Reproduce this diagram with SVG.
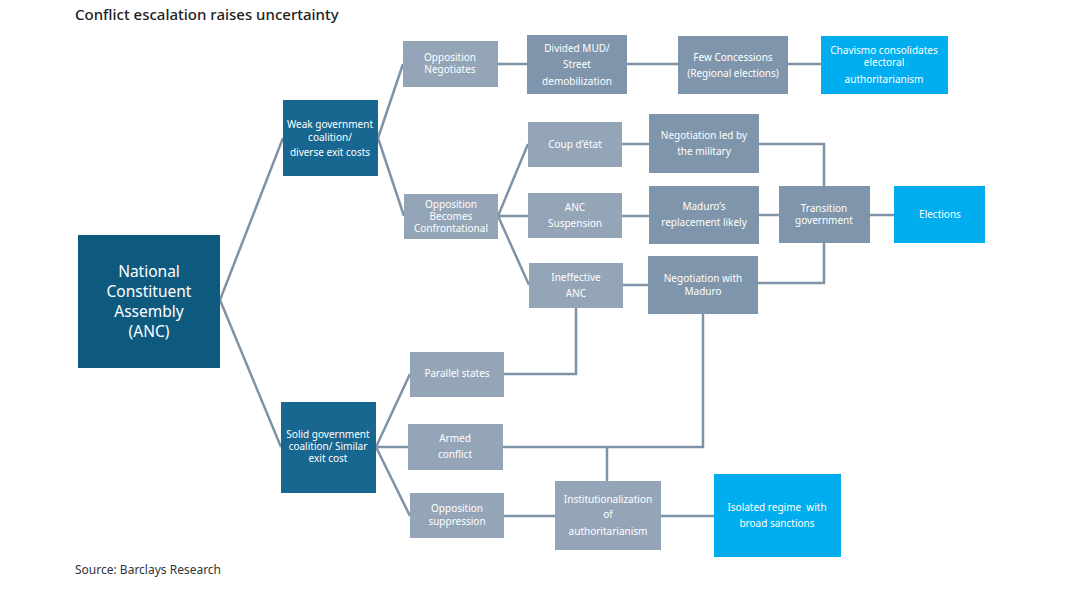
<svg xmlns="http://www.w3.org/2000/svg" width="1080" height="607" viewBox="0 0 1080 607">
<style>
.bg{fill:#ffffff}
.title{font-family:"Noto Sans","Open Sans",sans-serif;font-size:15px;fill:#222;font-weight:500}
.src{font-family:"Noto Sans","Open Sans",sans-serif;font-size:12px;fill:#333}
.t{font-family:"Noto Sans","Open Sans",sans-serif;font-size:10px;fill:#ffffff;text-anchor:middle}
.tb{font-family:"Noto Sans","Open Sans",sans-serif;font-size:15.5px;fill:#ffffff;text-anchor:middle}
.navy{fill:#0e5a7f}
.blue{fill:#176791}
.lg{fill:#94a5b8}
.dg{fill:#7e95ab}
.cy{fill:#00aeef}
.con{fill:none;stroke:#7f93a6;stroke-width:2.5}
</style>
<rect class="bg" width="1080" height="607"/>
<text class="title" x="75" y="20">Conflict escalation raises uncertainty</text>
<g id="connectors">
<path class="con" d="M220 300 L283 138 M220 300 L281 447"/>
<path class="con" d="M378 138 L403 64 M378 138 L404 216"/>
<path class="con" d="M498 64 H527 M627 64 H678 M788 64 H821"/>
<path class="con" d="M498 216 L528 144 M498 216 H528 M498 216 L529 285"/>
<path class="con" d="M622 144 H649 M622 216 H649 M623 285 H648"/>
<path class="con" d="M759 144 H824 V186 M759 215 H779 M758 283 H824 V243 M870 215 H894"/>
<path class="con" d="M376 447 L410 374 M376 447 H408 M376 447 L410 516"/>
<path class="con" d="M504 374 H576 V308"/>
<path class="con" d="M503 447 H703 V314 M607 447 V481"/>
<path class="con" d="M504 516 H555 M661 516 H714"/>
</g>
<g id="anc"><rect class="navy" x="78" y="235" width="142" height="133"/>
<text class="tb" x="149" y="277">National</text><text class="tb" x="149" y="297">Constituent</text><text class="tb" x="149" y="317">Assembly</text><text class="tb" x="149" y="337">(ANC)</text></g>
<g id="weak"><rect class="blue" x="283" y="100" width="95" height="76"/>
<text class="t" x="330" y="128">Weak government</text><text class="t" x="330" y="141">coalition/</text><text class="t" x="330" y="156">diverse exit costs</text></g>
<g id="solid"><rect class="blue" x="281" y="402" width="95" height="91"/>
<text class="t" x="328" y="438">Solid government</text><text class="t" x="328" y="450">coalition/ Similar</text><text class="t" x="328" y="462">exit cost</text></g>
<g id="oppneg"><rect class="lg" x="403" y="41" width="95" height="46"/>
<text class="t" x="450" y="61">Opposition</text><text class="t" x="450" y="73">Negotiates</text></g>
<g id="divided"><rect class="dg" x="527" y="35" width="100" height="59"/>
<text class="t" x="577" y="52">Divided MUD/</text><text class="t" x="577" y="68">Street</text><text class="t" x="577" y="85">demobilization</text></g>
<g id="few"><rect class="dg" x="678" y="36" width="110" height="58"/>
<text class="t" x="733" y="61">Few Concessions</text><text class="t" x="733" y="77">(Regional elections)</text></g>
<g id="chavismo"><rect class="cy" x="821" y="36" width="127" height="58"/>
<text class="t" x="884" y="54">Chavismo consolidates</text><text class="t" x="884" y="66">electoral</text><text class="t" x="884" y="83">authoritarianism</text></g>
<g id="oppconf"><rect class="lg" x="404" y="194" width="94" height="45"/>
<text class="t" x="451" y="208">Opposition</text><text class="t" x="451" y="220">Becomes</text><text class="t" x="451" y="232">Confrontational</text></g>
<g id="coup"><rect class="lg" x="528" y="122" width="94" height="45"/>
<text class="t" x="575" y="148">Coup d'état</text></g>
<g id="ancsusp"><rect class="lg" x="528" y="193" width="94" height="45"/>
<text class="t" x="575" y="211">ANC</text><text class="t" x="575" y="227">Suspension</text></g>
<g id="ineff"><rect class="lg" x="529" y="263" width="94" height="45"/>
<text class="t" x="576" y="281">Ineffective</text><text class="t" x="576" y="297">ANC</text></g>
<g id="negmil"><rect class="dg" x="649" y="114" width="110" height="59"/>
<text class="t" x="704" y="139">Negotiation led by</text><text class="t" x="704" y="155">the military</text></g>
<g id="madrep"><rect class="dg" x="649" y="186" width="110" height="58"/>
<text class="t" x="704" y="210">Maduro’s</text><text class="t" x="704" y="226">replacement likely</text></g>
<g id="negmad"><rect class="dg" x="648" y="256" width="110" height="58"/>
<text class="t" x="703" y="282">Negotiation with</text><text class="t" x="703" y="295">Maduro</text></g>
<g id="transition"><rect class="dg" x="779" y="186" width="91" height="57"/>
<text class="t" x="824" y="212">Transition</text><text class="t" x="824" y="224">government</text></g>
<g id="elections"><rect class="cy" x="894" y="186" width="91" height="57"/>
<text class="t" x="940" y="218">Elections</text></g>
<g id="parallel"><rect class="lg" x="410" y="352" width="94" height="45"/>
<text class="t" x="457" y="377">Parallel states</text></g>
<g id="armed"><rect class="lg" x="408" y="424" width="95" height="46"/>
<text class="t" x="455" y="442">Armed</text><text class="t" x="455" y="458">conflict</text></g>
<g id="oppsupp"><rect class="lg" x="410" y="493" width="94" height="45"/>
<text class="t" x="457" y="512">Opposition</text><text class="t" x="457" y="525">suppression</text></g>
<g id="inst"><rect class="lg" x="555" y="481" width="106" height="69"/>
<text class="t" x="608" y="503">Institutionalization</text><text class="t" x="608" y="518">of</text><text class="t" x="608" y="535">authoritarianism</text></g>
<g id="isolated"><rect class="cy" x="714" y="474" width="127" height="83"/>
<text class="t" x="777" y="511" xml:space="preserve">Isolated regime  with</text><text class="t" x="777" y="527">broad sanctions</text></g>
<text class="src" x="75" y="574">Source: Barclays Research</text>
</svg>
